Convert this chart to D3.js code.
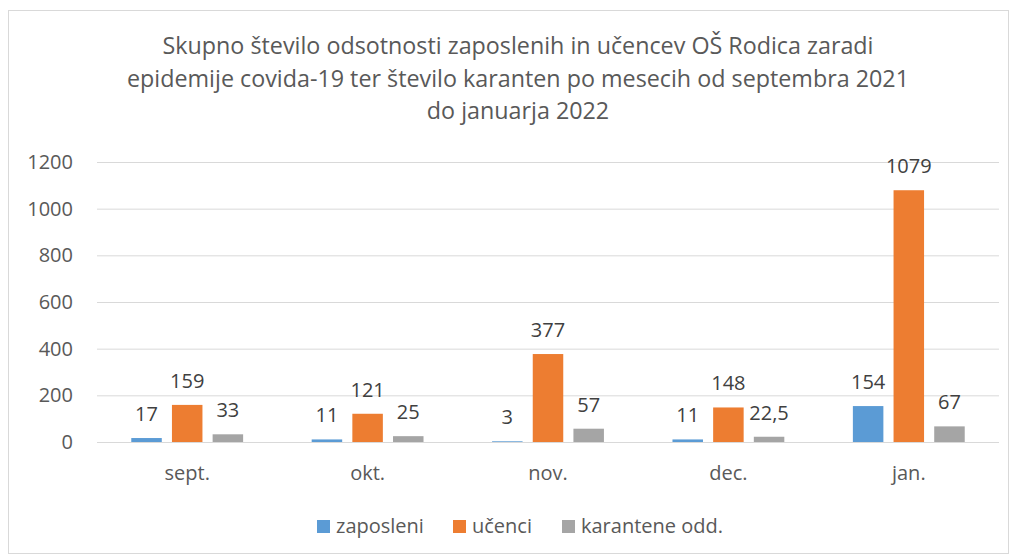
<!DOCTYPE html>
<meta charset="utf-8" />
<style>
  body { margin: 0; background: #fff; }
  text { font-family: "Open Sans", "Noto Sans", sans-serif; }
</style>
<div id="chart"></div>
<script src="https://d3js.org/d3.v7.min.js"></script>
<script>
  // data
  var months = ["sept.", "okt.", "nov.", "dec.", "jan."];
  var seriesNames = ["zaposleni", "učenci", "karantene odd."];
  var zaposleni = [17, 11, 3, 11, 154];
  var ucenci = [159, 121, 377, 148, 1079];
  var karantene = [33, 25, 57, 22.5, 67];
  var yTicks = [0, 200, 400, 600, 800, 1000, 1200];
  var titleLines = [
    "Skupno število odsotnosti zaposlenih in učencev OŠ Rodica zaradi",
    "epidemije covida-19 ter število karanten po mesecih od septembra 2021",
    "do januarja 2022"
  ];
  var colors = ["#5B9BD5", "#ED7D31", "#A5A5A5"];

  var W = 1014, H = 559;
  var margin = { top: 162, right: 15, bottom: 117, left: 97 },
    width = W - margin.left - margin.right,
    height = H - margin.top - margin.bottom;

  var svg = d3.select("#chart").append("svg")
    .attr("width", W)
    .attr("height", H);

  // chart frame
  svg.append("rect")
    .attr("x", 8.5).attr("y", 10.5)
    .attr("width", W - 14).attr("height", H - 16)
    .attr("fill", "#fff")
    .attr("stroke", "#d9d9d9");

  // title
  svg.append("g").selectAll("text")
    .data(titleLines)
    .enter().append("text")
    .attr("x", 518)
    .attr("y", function (d, i) { return 54 + i * 32.5; })
    .attr("text-anchor", "middle")
    .style("font-size", "23.3px")
    .style("fill", "#595959")
    .text(function (d) { return d; });

  var x0 = d3.scaleBand().domain(months).range([0, width]).paddingInner(0.38).paddingOuter(0.19);
  var x1 = d3.scaleBand().domain(seriesNames).range([0, x0.bandwidth()]).paddingInner(0.25);
  var y = d3.scaleLinear().domain([0, 1200]).range([height, 0]);

  var g = svg.append("g")
    .attr("transform", "translate(" + margin.left + "," + margin.top + ")");

  // gridlines
  g.append("g").selectAll("line")
    .data(yTicks)
    .enter().append("line")
    .attr("x1", 0).attr("x2", width)
    .attr("y1", function (d) { return y(d) + 0.5; })
    .attr("y2", function (d) { return y(d) + 0.5; })
    .attr("stroke", "#d9d9d9")
    .attr("stroke-width", 1);

  // y axis labels
  var yAxis = g.append("g")
    .call(d3.axisLeft(y).tickValues(yTicks).tickFormat(d3.format("d")).tickSize(0).tickPadding(24));
  yAxis.select(".domain").remove();
  yAxis.selectAll("text")
    .style("font-size", "20px")
    .style("font-family", "'Open Sans', sans-serif")
    .style("fill", "#595959");

  // x axis labels
  var xAxis = g.append("g")
    .attr("transform", "translate(0," + height + ")")
    .call(d3.axisBottom(x0).tickSize(0).tickPadding(24));
  xAxis.select(".domain").remove();
  xAxis.selectAll("text")
    .style("font-size", "20px")
    .style("font-family", "'Open Sans', sans-serif")
    .style("fill", "#595959");

  var table = months.map(function (m, i) {
    return { month: m, values: [zaposleni[i], ucenci[i], karantene[i]] };
  });

  var groups = g.selectAll(".grp")
    .data(table)
    .enter().append("g")
    .attr("class", "grp")
    .attr("transform", function (d) { return "translate(" + x0(d.month) + ",0)"; });

  var cells = function (d) {
    return d.values.map(function (v, i) { return { key: seriesNames[i], v: v, i: i }; });
  };

  groups.selectAll("rect")
    .data(cells)
    .enter().append("rect")
    .attr("x", function (d) { return x1(d.key); })
    .attr("y", function (d) { return y(d.v); })
    .attr("width", x1.bandwidth())
    .attr("height", function (d) { return height - y(d.v); })
    .attr("fill", function (d) { return colors[d.i]; });

  groups.selectAll(".lbl")
    .data(cells)
    .enter().append("text")
    .attr("class", "lbl")
    .attr("x", function (d) { return x1(d.key) + x1.bandwidth() / 2; })
    .attr("y", function (d) { return y(d.v) - 17; })
    .attr("text-anchor", "middle")
    .style("font-size", "20px")
    .style("fill", "#404040")
    .text(function (d) { return String(d.v).replace(".", ","); });

  // legend
  var legendX = [317, 453, 562];
  var legend = svg.append("g").selectAll("g")
    .data(seriesNames)
    .enter().append("g")
    .attr("transform", function (d, i) { return "translate(" + legendX[i] + ",520)"; });
  legend.append("rect")
    .attr("width", 13).attr("height", 13)
    .attr("fill", function (d, i) { return colors[i]; });
  legend.append("text")
    .attr("x", 19).attr("y", 13)
    .style("font-size", "20px")
    .style("fill", "#595959")
    .text(function (d) { return d; });
</script>
